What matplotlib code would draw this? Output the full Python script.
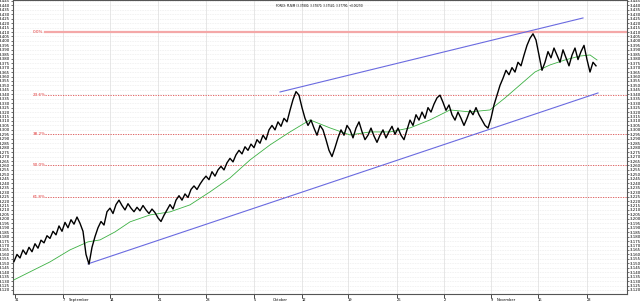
import numpy as np
import matplotlib
matplotlib.use("Agg")
import matplotlib.pyplot as plt
from matplotlib.transforms import blended_transform_factory

# closing prices, one every 3 bars
price = [3.152, 3.160, 3.156, 3.165, 3.160, 3.168, 3.163, 3.172, 3.167, 3.176,
         3.173, 3.181, 3.178, 3.186, 3.182, 3.192, 3.186, 3.196, 3.190, 3.199,
         3.194, 3.202, 3.195, 3.186, 3.160, 3.149, 3.168, 3.180, 3.190, 3.197,
         3.193, 3.208, 3.212, 3.206, 3.216, 3.221, 3.215, 3.210, 3.217, 3.212,
         3.208, 3.213, 3.209, 3.215, 3.210, 3.206, 3.211, 3.207, 3.201, 3.197,
         3.204, 3.210, 3.216, 3.211, 3.221, 3.226, 3.221, 3.228, 3.224, 3.233,
         3.237, 3.233, 3.239, 3.244, 3.248, 3.244, 3.253, 3.248, 3.255, 3.259,
         3.255, 3.263, 3.268, 3.264, 3.272, 3.277, 3.273, 3.281, 3.277, 3.284,
         3.280, 3.289, 3.285, 3.294, 3.289, 3.300, 3.305, 3.300, 3.309, 3.304,
         3.313, 3.309, 3.322, 3.334, 3.343, 3.339, 3.325, 3.313, 3.305, 3.311,
         3.302, 3.294, 3.305, 3.300, 3.289, 3.277, 3.270, 3.280, 3.291, 3.300,
         3.294, 3.305, 3.300, 3.291, 3.302, 3.309, 3.298, 3.289, 3.294, 3.302,
         3.293, 3.286, 3.294, 3.300, 3.291, 3.298, 3.304, 3.295, 3.302, 3.294,
         3.289, 3.300, 3.311, 3.305, 3.317, 3.311, 3.320, 3.313, 3.325, 3.320,
         3.329, 3.336, 3.339, 3.331, 3.322, 3.328, 3.317, 3.311, 3.320, 3.313,
         3.305, 3.313, 3.322, 3.317, 3.325, 3.317, 3.311, 3.305, 3.302, 3.313,
         3.328, 3.339, 3.350, 3.358, 3.367, 3.362, 3.370, 3.365, 3.376, 3.372,
         3.384, 3.395, 3.403, 3.408, 3.401, 3.384, 3.367, 3.376, 3.388, 3.381,
         3.392, 3.384, 3.376, 3.390, 3.381, 3.372, 3.384, 3.392, 3.379, 3.388,
         3.395, 3.379, 3.365, 3.376, 3.372]
price_step = 3

# moving average (green)
ma_bars = [1, 17, 37, 57, 75, 87, 102, 117, 137, 157, 177, 197, 217, 237, 257,
           277, 297, 317, 337, 357, 377, 397, 417, 437, 457, 477, 492, 507, 522,
           537, 552, 567, 577, 584]
ma_vals = [3.1314, 3.1404, 3.1516, 3.1651, 3.1741, 3.1763, 3.1853, 3.1966, 3.2044,
           3.2078, 3.2157, 3.2303, 3.2460, 3.2662, 3.2831, 3.2977, 3.3112, 3.3022,
           3.2943, 3.2977, 3.2977, 3.3022, 3.3112, 3.3224, 3.3202, 3.3224, 3.3359,
           3.3505, 3.3651, 3.3730, 3.3786, 3.3830, 3.3842, 3.3786]

# trend channel
lower_bars = [75, 585]
lower_vals = [3.1494, 3.3415]
upper_bars = [267, 570]
upper_vals = [3.3426, 3.4258]

# fibonacci retracement
fib_high = 3.410
fib_low = 3.110
fib_pcts = [0.0, 23.6, 38.2, 50.0, 61.8]

tick_bars = [2, 50, 97, 145, 193, 241, 289, 335, 384, 431, 478, 525, 574]
tick_labels = ["31", "7", "14", "21", "28", "5", "12", "19", "26", "2", "9", "16", "23"]
month_bars = [56, 260, 484]
month_labels = ["September", "Oktober", "November"]

title = "FOREX: PLN/M (3.37800, 3.37870, 3.37540, 3.37790, +0.00270)"

ymin, ymax = 3.1155, 3.446
xmax = 614

fig = plt.figure(figsize=(6.4, 3.02), dpi=100)
ax = fig.add_axes([13 / 640, 8 / 302, 614 / 640, 294 / 302])
ax.set_xlim(0, xmax)
ax.set_ylim(ymin, ymax)

# grid
yt = np.arange(3.120, 3.4451, 0.005)
for v in yt:
    ax.axhline(v, color="#d8d8d8", lw=0.4, ls=(0, (1, 2)), zorder=0)
for b in tick_bars[1:]:
    ax.axvline(b, color="#dddddd", lw=0.5, zorder=0)

# fib levels
for p in fib_pcts:
    lvl = fib_high - (fib_high - fib_low) * p / 100
    if p == 0:
        ax.plot([32, xmax], [lvl, lvl], color="#f4a8a8", lw=1.6, zorder=1)
    else:
        ax.plot([32, xmax], [lvl, lvl], color="#e05050", lw=0.6, ls=(0, (1.5, 1.5)), zorder=1)
    ax.text(20, lvl, "%.1f%%" % p, color="#e03030", fontsize=3, va="center", ha="left", zorder=3)

# channel
ax.plot(lower_bars, lower_vals, color="#6a6ae0", lw=0.8, zorder=2)
ax.plot(upper_bars, upper_vals, color="#6a6ae0", lw=0.8, zorder=2)

# MA and price
ax.plot(ma_bars, ma_vals, color="#3cb043", lw=0.6, zorder=3)
px = np.arange(len(price)) * price_step + 1
ax.plot(px, price, color="black", lw=1.0, zorder=4)

ax.text(0.5, 0.985, title, transform=ax.transAxes, fontsize=2, ha="center", va="top")

# axes styling
ax.set_yticks(yt)
ax.set_yticklabels(["%.3f" % v for v in yt])
ax.tick_params(axis="y", which="both", labelsize=2.8, length=1.5, width=0.4, pad=0.5,
               left=True, right=True, labelleft=True, labelright=True)
ax.set_xticks(tick_bars)
ax.set_xticklabels(tick_labels)
ax.tick_params(axis="x", labelsize=2.6, length=3, width=0.5, pad=0.2)
for lab in ax.get_xticklabels():
    lab.set_horizontalalignment("left")
mtrans = blended_transform_factory(ax.transData, fig.transFigure)
for b, m in zip(month_bars, month_labels):
    ax.text(b, 0.0, m, transform=mtrans, fontsize=2.6, ha="left", va="bottom", clip_on=False)
for s in ax.spines.values():
    s.set_color("#555555")
    s.set_linewidth(0.8)

fig.savefig("out.png", dpi=100)
